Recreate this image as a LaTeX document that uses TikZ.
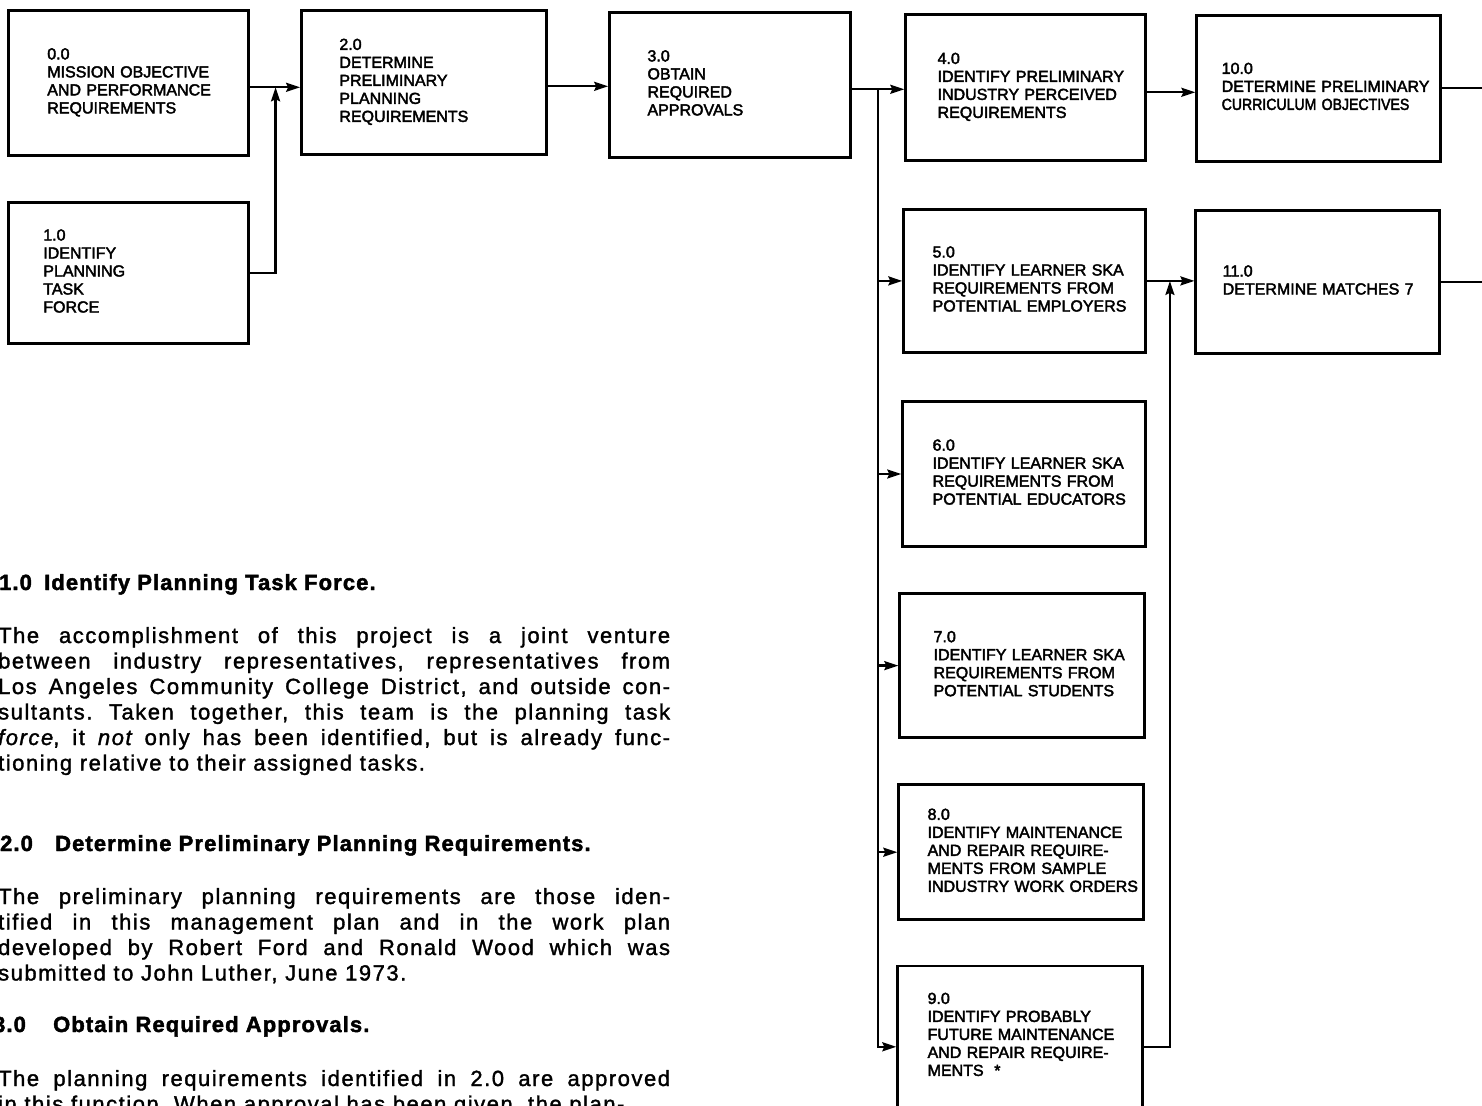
\documentclass[tikz,border=0pt]{standalone}
\usepackage{fontspec}
\setmainfont{Liberation Sans}
\newfontfamily\boxfont[FakeBold=2.5]{Liberation Sans}
\newfontfamily\narrowfont[FakeBold=2.5,FakeStretch=0.88]{Liberation Sans}
\newfontfamily\bodyfont[LetterSpace=7,FakeBold=1.5]{Liberation Sans}
\newfontfamily\headfont[LetterSpace=5,FakeBold=2]{Liberation Sans}
\usetikzlibrary{arrows.meta,positioning}
\newcommand{\taskLines}[1]{\begin{tabular}{@{}l@{}}#1\end{tabular}}

\begin{document}
\begin{tikzpicture}[x=1pt,y=-1pt,>={Stealth[length=14pt,width=9pt,inset=2pt]},line width=2.3pt,
  task/.style n args={3}{draw,line width=2.6pt,anchor=north west,align=left,
    font=\boxfont\fontsize{16}{18}\selectfont,text width=#1,inner xsep=#2,minimum height=#3},
  head/.style={anchor=base west,inner sep=0pt,font={\headfont\bfseries\fontsize{22}{25.5}\selectfont}},
  para/.style={anchor=base west,inner sep=0pt,text width=672pt,align=justify,
    font={\bodyfont\fontsize{22}{25.5}\selectfont\frenchspacing\tolerance=10000\hyphenpenalty=10000}}]
  \path[use as bounding box,fill=white] (0,0) rectangle (1482,1105);
  \clip (0,0) rectangle (1482,1105);

  % task boxes
  \node[task={162pt}{39pt}{145pt}] (T0) at (7,9) {\taskLines{0.0\\MISSION OBJECTIVE\\AND PERFORMANCE\\REQUIREMENTS}};
  \node[task={170pt}{35pt}{141pt}] (T1) [below=44.5pt of T0.south west,anchor=north west] {\taskLines{1.0\\IDENTIFY\\PLANNING\\TASK\\FORCE}};
  \node[task={169pt}{38pt}{144pt}] (T2) [right=50.5pt of T0.north east,anchor=north west] {\taskLines{2.0\\DETERMINE\\PRELIMINARY\\PLANNING\\REQUIREMENTS}};
  \node[task={165pt}{38pt}{145pt}] (T3) [right=60.5pt of T2.north east,anchor=north west,yshift=-2pt] {\taskLines{3.0\\OBTAIN\\REQUIRED\\APPROVALS}};
  \node[task={176pt}{32pt}{146pt}] (T4) [right=52.5pt of T3.north east,anchor=north west,yshift=-2pt] {\taskLines{4.0\\IDENTIFY PRELIMINARY\\INDUSTRY PERCEIVED\\REQUIREMENTS}};
  \node[task={194pt}{25pt}{146pt}] (T10) [right=48.5pt of T4.north east,anchor=north west,yshift=-1pt] {\taskLines{10.0\\DETERMINE PRELIMINARY\\{\narrowfont CURRICULUM OBJECTIVES}}};
  \node[task={184pt}{29pt}{143pt}] (T5) [below=46.5pt of T4.south west,anchor=north west,xshift=-2pt] {\taskLines{5.0\\IDENTIFY LEARNER SKA\\REQUIREMENTS FROM\\POTENTIAL EMPLOYERS}};
  \node[task={190pt}{27pt}{143pt}] (T11) [below=46.5pt of T10.south west,anchor=north west,xshift=-1pt] {\taskLines{11.0\\DETERMINE MATCHES 7}};
  \node[task={183pt}{30pt}{145pt}] (T6) [below=46.5pt of T5.south west,anchor=north west,xshift=-1pt] {\taskLines{6.0\\IDENTIFY LEARNER SKA\\REQUIREMENTS FROM\\POTENTIAL EDUCATORS}};
  \node[task={177pt}{34pt}{144pt}] (T7) [below=44.5pt of T6.south west,anchor=north west,xshift=-3pt] {\taskLines{7.0\\IDENTIFY LEARNER SKA\\REQUIREMENTS FROM\\POTENTIAL STUDENTS}};
  \node[task={187pt}{29pt}{135pt}] (T8) [below=44.5pt of T7.south west,anchor=north west,xshift=-1pt] {\taskLines{8.0\\IDENTIFY MAINTENANCE\\AND REPAIR REQUIRE-\\MENTS FROM SAMPLE\\INDUSTRY WORK ORDERS}};
  \node[task={185pt}{30pt}{141pt}] (T9) [below=43.5pt of T8.south west,anchor=north west,xshift=-1pt] {\taskLines{9.0\\IDENTIFY PROBABLY\\FUTURE MAINTENANCE\\AND REPAIR REQUIRE-\\MENTS~~*}};

  % connectors
  \coordinate (j1) at ([xshift=26pt,yshift=-4.5pt]T0.east);
  \coordinate (bus) at ([xshift=26pt,yshift=-4.5pt]T3.east);
  \coordinate (j2) at ([xshift=23pt]T5.east);
  \coordinate (o10) at ([xshift=60pt]T10.east);
  \coordinate (o11) at ([xshift=60pt]T11.east);
  \draw[->] (j1 -| T0.east) -- (j1 -| T2.west);
  \draw[->] (T1.east) -| (j1);
  \draw[->] ([yshift=-4pt]T2.east) -- ([yshift=-4pt]T2.east -| T3.west);
  \draw[->] (bus -| T3.east) -- (bus -| T4.west);
  \draw[->] (bus) |- ([yshift=-10.5pt]T9.west);
  \draw[->] (bus |- T5.west) -- (T5.west);
  \draw[->] (bus |- T6.west) -- (T6.west);
  \draw[->] (bus |- T7.west) -- (T7.west);
  \draw[->] (bus |- T8.west) -- (T8.west);
  \draw[->] ([yshift=-5pt]T4.east) -- ([yshift=-5pt]T4.east -| T10.west);
  \draw[->] (T5.east) -- (T5.east -| T11.west);
  \draw[->] ([yshift=-10.5pt]T9.east) -| (j2);
  \draw (T10.east) -- (o10);
  \draw (T11.east) -- (o11);

  % text of the page
  \node[head] (n1) at (-2,590) {1.0};
  \node[head] (h1) at (43,590) {Identify Planning Task Force.};
  \node[para] (p1) at (-3,643) {The accomplishment of this project is a joint venture\linebreak
    between industry representatives, representatives from\linebreak
    Los Angeles Community College District, and outside con-\linebreak
    sultants. Taken together, this team is the planning task\linebreak
    {\itshape force}, it {\itshape not} only has been identified, but is already func-\linebreak
    tioning relative to their assigned tasks.};
  \node[head] (n2) at (-1,851) {2.0};
  \node[head] (h2) at (54,851) {Determine Preliminary Planning Requirements.};
  \node[para] (p2) at (-3,904) {The preliminary planning requirements are those iden-\linebreak
    tified in this management plan and in the work plan\linebreak
    developed by Robert Ford and Ronald Wood which was\linebreak
    submitted to John Luther, June 1973.};
  \node[head] (n3) at (-8,1032) {3.0};
  \node[head] (h3) at (52,1032) {Obtain Required Approvals.};
  \node[para] (p3) at (-3,1086) {The planning requirements identified in 2.0 are approved\linebreak
    in this function. When approval has been given, the plan-};
\end{tikzpicture}
\end{document}
